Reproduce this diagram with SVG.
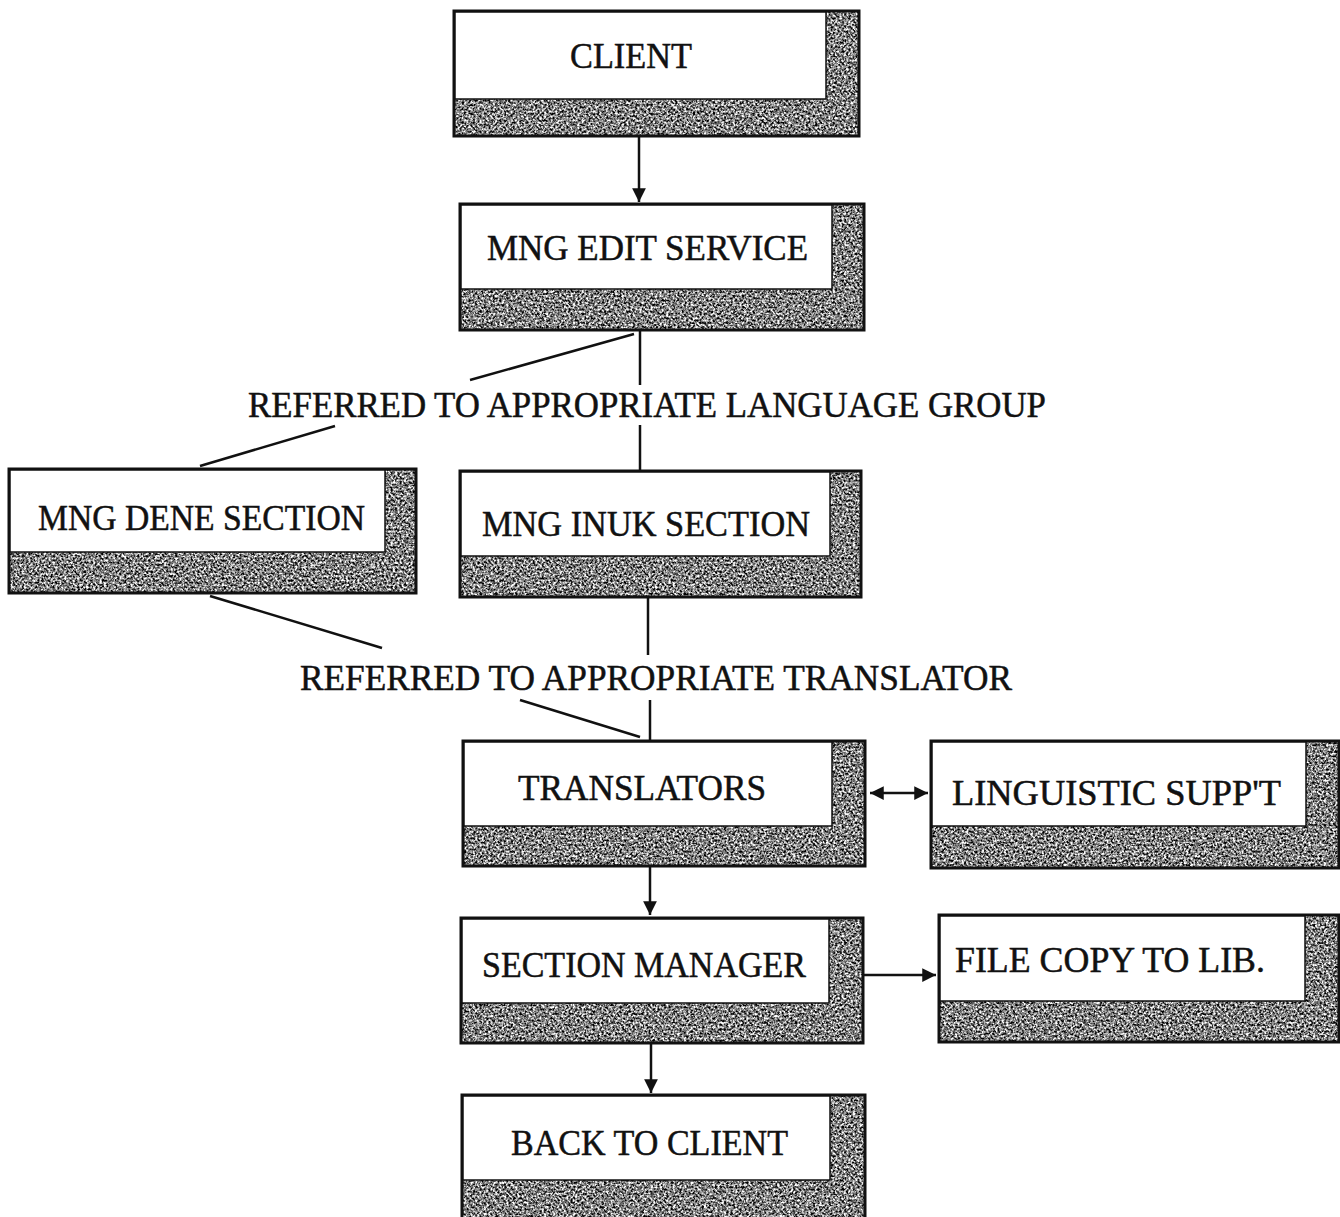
<svg xmlns="http://www.w3.org/2000/svg" width="1340" height="1217" viewBox="0 0 1340 1217">
<style>
.sh{fill:#808080;filter:url(#tex);}
.bd{fill:none;stroke:#111;stroke-width:3;}
.wh{fill:#fff;stroke:#111;stroke-width:1.5;}
.t{font-family:"Liberation Serif","Times New Roman",serif;font-size:36px;fill:#111;stroke:#111;stroke-width:0.5;}
.c{stroke:#111;stroke-width:2.5;fill:none;}
</style>
<defs>
<filter id="tex" x="0" y="0" width="1" height="1" color-interpolation-filters="sRGB">
<feTurbulence type="fractalNoise" baseFrequency="0.45" numOctaves="3" seed="7" result="n"/>
<feColorMatrix in="n" type="matrix" values="2.2 0 0 0 -0.6  2.2 0 0 0 -0.6  2.2 0 0 0 -0.6  0 0 0 0 1" result="g"/>
<feComposite in="g" in2="SourceGraphic" operator="in"/>
</filter>
<marker id="ah" viewBox="0 0 10 10" refX="10" refY="5" markerWidth="5.5" markerHeight="5.5" orient="auto-start-reverse" markerUnits="strokeWidth">
<path d="M0,0 L10,5 L0,10 z" fill="#111"/>
</marker>
</defs>

<g id="connectors">
<line class="c" x1="639" y1="136" x2="639" y2="202" marker-end="url(#ah)"/>
<line class="c" x1="640" y1="330" x2="640" y2="385"/>
<line class="c" x1="640" y1="425" x2="640" y2="471"/>
<line class="c" x1="634" y1="334" x2="470" y2="380"/>
<line class="c" x1="335" y1="426" x2="200" y2="466"/>
<line class="c" x1="648" y1="597" x2="648" y2="655"/>
<line class="c" x1="650" y1="700" x2="650" y2="741"/>
<line class="c" x1="210" y1="596" x2="382" y2="648"/>
<line class="c" x1="520" y1="700" x2="640" y2="737"/>
<line class="c" x1="870" y1="793" x2="928" y2="793" marker-start="url(#ah)" marker-end="url(#ah)"/>
<line class="c" x1="650" y1="866" x2="650" y2="915" marker-end="url(#ah)"/>
<line class="c" x1="864" y1="975" x2="936" y2="975" marker-end="url(#ah)"/>
<line class="c" x1="651" y1="1043" x2="651" y2="1093" marker-end="url(#ah)"/>
</g>

<g id="client">
<rect class="sh" x="454" y="11" width="405" height="125"/>
<rect class="bd" x="454" y="11" width="405" height="125"/>
<rect class="wh" x="455" y="12" width="371" height="87"/>
<text class="t" x="570" y="68" textLength="122" lengthAdjust="spacingAndGlyphs">CLIENT</text>
</g>

<g id="mng-edit-service">
<rect class="sh" x="460" y="204" width="404" height="126"/>
<rect class="bd" x="460" y="204" width="404" height="126"/>
<rect class="wh" x="461" y="205" width="371" height="84"/>
<text class="t" x="487" y="260" textLength="321" lengthAdjust="spacingAndGlyphs">MNG EDIT SERVICE</text>
</g>

<g id="label-language">
<text class="t" x="248" y="417" textLength="798" lengthAdjust="spacingAndGlyphs">REFERRED TO APPROPRIATE LANGUAGE GROUP</text>
</g>

<g id="mng-dene-section">
<rect class="sh" x="9" y="469" width="407" height="124"/>
<rect class="bd" x="9" y="469" width="407" height="124"/>
<rect class="wh" x="10" y="470" width="375" height="82"/>
<text class="t" x="38" y="530" textLength="327" lengthAdjust="spacingAndGlyphs">MNG DENE SECTION</text>
</g>

<g id="mng-inuk-section">
<rect class="sh" x="460" y="471" width="401" height="126"/>
<rect class="bd" x="460" y="471" width="401" height="126"/>
<rect class="wh" x="461" y="472" width="369" height="84"/>
<text class="t" x="482" y="536" textLength="328" lengthAdjust="spacingAndGlyphs">MNG INUK SECTION</text>
</g>

<g id="label-translator">
<text class="t" x="300" y="690" textLength="712" lengthAdjust="spacingAndGlyphs">REFERRED TO APPROPRIATE TRANSLATOR</text>
</g>

<g id="translators">
<rect class="sh" x="463" y="741" width="402" height="125"/>
<rect class="bd" x="463" y="741" width="402" height="125"/>
<rect class="wh" x="464" y="742" width="368" height="84"/>
<text class="t" x="518" y="800" textLength="248" lengthAdjust="spacingAndGlyphs">TRANSLATORS</text>
</g>

<g id="linguistic-support">
<rect class="sh" x="931" y="741" width="408" height="127"/>
<rect class="bd" x="931" y="741" width="408" height="127"/>
<rect class="wh" x="932" y="742" width="374" height="84"/>
<text class="t" x="952" y="805" textLength="329" lengthAdjust="spacingAndGlyphs">LINGUISTIC SUPP'T</text>
</g>

<g id="section-manager">
<rect class="sh" x="461" y="918" width="402" height="125"/>
<rect class="bd" x="461" y="918" width="402" height="125"/>
<rect class="wh" x="462" y="919" width="367" height="84"/>
<text class="t" x="482" y="977" textLength="324" lengthAdjust="spacingAndGlyphs">SECTION MANAGER</text>
</g>

<g id="file-copy-to-lib">
<rect class="sh" x="939" y="915" width="400" height="127"/>
<rect class="bd" x="939" y="915" width="400" height="127"/>
<rect class="wh" x="940" y="916" width="365" height="85"/>
<text class="t" x="955" y="972" textLength="310" lengthAdjust="spacingAndGlyphs">FILE COPY TO LIB.</text>
</g>

<g id="back-to-client">
<rect class="sh" x="462" y="1095" width="403" height="122"/>
<rect class="bd" x="462" y="1095" width="403" height="124"/>
<rect class="wh" x="463" y="1096" width="367" height="84"/>
<text class="t" x="511" y="1155" textLength="277" lengthAdjust="spacingAndGlyphs">BACK TO CLIENT</text>
</g>
</svg>
